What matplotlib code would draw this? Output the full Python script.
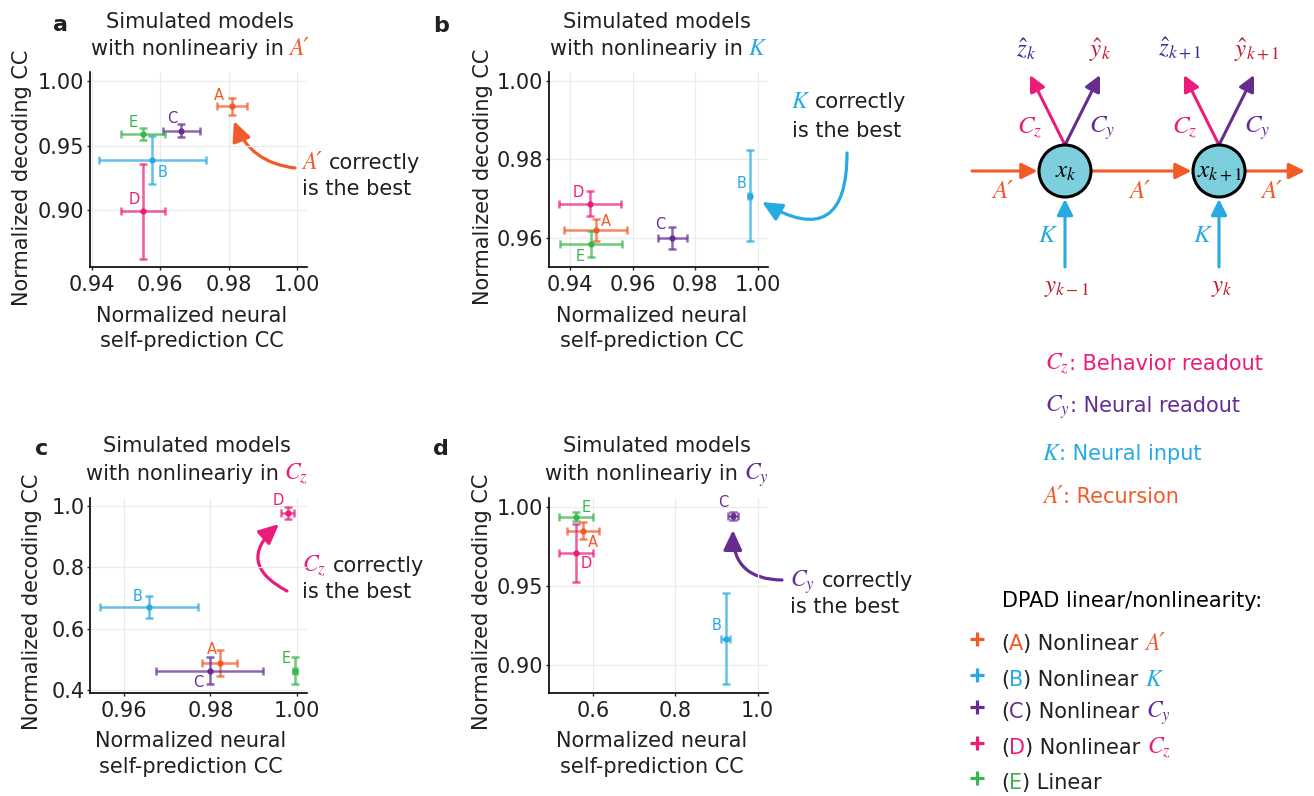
import matplotlib
matplotlib.use('Agg')
import matplotlib.pyplot as plt
from matplotlib.patches import FancyArrowPatch, Circle
from matplotlib.colors import to_rgba

plt.rcParams['font.family'] = ['DejaVu Sans']
plt.rcParams['mathtext.fontset'] = 'stix'

W, H = 1314, 796

# ---------------- data ----------------
models = ['A', 'B', 'C', 'D', 'E']

a_x    = [0.9810, 0.9576, 0.9662, 0.9550, 0.9550]
a_xerr = [0.0043, 0.0157, 0.0053, 0.0065, 0.0065]
a_y    = [0.9806, 0.9390, 0.9616, 0.8990, 0.9590]
a_yerr = [0.0066, 0.0187, 0.0050, 0.0366, 0.0050]

b_x    = [0.9482, 0.9974, 0.9727, 0.9464, 0.9466]
b_xerr = [0.0100, 0.0005, 0.0047, 0.0100, 0.0099]
b_y    = [0.9620, 0.9708, 0.9600, 0.9687, 0.9585]
b_yerr = [0.0029, 0.0115, 0.0027, 0.0032, 0.0034]

c_x    = [0.9821, 0.9658, 0.9798, 0.9978, 0.9995]
c_xerr = [0.0040, 0.0114, 0.0124, 0.0015, 0.0004]
c_y    = [0.4876, 0.6710, 0.4624, 0.9780, 0.4624]
c_yerr = [0.0430, 0.0360, 0.0440, 0.0210, 0.0440]

d_x    = [0.5756, 0.9220, 0.9390, 0.5585, 0.5585]
d_xerr = [0.0390, 0.0110, 0.0120, 0.0420, 0.0420]
d_y    = [0.9850, 0.9164, 0.9943, 0.9708, 0.9939]
d_yerr = [0.0055, 0.0289, 0.0023, 0.0185, 0.0030]

a_xticks = [0.94, 0.96, 0.98, 1.00]; a_yticks = [0.90, 0.95, 1.00]
b_xticks = [0.94, 0.96, 0.98, 1.00]; b_yticks = [0.96, 0.98, 1.00]
c_xticks = [0.96, 0.98, 1.00];       c_yticks = [0.4, 0.6, 0.8, 1.0]
d_xticks = [0.6, 0.8, 1.0];          d_yticks = [0.90, 0.95, 1.00]

legend_names = ['Nonlinear', 'Nonlinear', 'Nonlinear', 'Nonlinear', 'Linear']
legend_syms = ["A′", 'K', '$C_y$', '$C_z$', '']

# ---------------- style ----------------
ORANGE = '#F15A29'; BLUE = '#27AAE1'; PURPLE = '#662D91'
PINK = '#EC1C7A'; GREEN = '#39B54A'; DARKRED = '#BE1E2D'; NAVY = '#2E3192'
TXT = '#231F20'
colors = [ORANGE, BLUE, PURPLE, PINK, GREEN]
FS = 15
SERIF_FAM = ['STIXGeneral', 'DejaVu Serif']
SERIF = dict(family=SERIF_FAM, style='italic', size=17)
MATH = dict(size=17)

fig = plt.figure(figsize=(W / 100, H / 100), dpi=100)

ov = fig.add_axes([0, 0, 1, 1])
ov.set_xlim(0, W); ov.set_ylim(H, 0); ov.axis('off')
ren = fig.canvas.get_renderer()


def sym_kw(s):
    return MATH if s.startswith('$') else SERIF


def rich(x, y, pieces, ha='left', size=FS):
    items = []
    for p in pieces:
        s, col = p[0], p[1]
        gap = p[2] if len(p) > 2 else 0
        kw = dict(fontsize=size)
        if len(p) > 3:
            kw = dict(p[3])
        t = ov.text(0, y, s, color=col, va='baseline', ha='left', **kw)
        w = t.get_window_extent(ren).width
        items.append((t, gap, w))
    total = sum(g + w for _, g, w in items)
    cur = x - total / 2 if ha == 'center' else x
    for t, g, w in items:
        cur += g
        t.set_x(cur)
        cur += w


def panel(box, xs, xe, ys, ye, xlim, ylim, xticks, yticks, xfmt, yfmt, offs):
    l, t, r, b = box
    ax = fig.add_axes([l / W, 1 - b / H, (r - l) / W, (b - t) / H])
    ax.set_xlim(*xlim); ax.set_ylim(*ylim)
    ax.set_xticks(xticks); ax.set_yticks(yticks)
    ax.set_xticklabels([xfmt % v for v in xticks])
    ax.set_yticklabels([yfmt % v for v in yticks])
    ax.grid(True, color='#EBEBEB', lw=0.9)
    ax.set_axisbelow(True)
    for s in ['top', 'right']:
        ax.spines[s].set_visible(False)
    for s in ['left', 'bottom']:
        ax.spines[s].set_linewidth(1.2)
    ax.tick_params(direction='out', length=2.5, width=1, labelsize=FS, colors=TXT)
    ax.tick_params(axis='x', pad=3)
    ax.tick_params(axis='y', pad=1.5)
    ax.set_facecolor('none')
    for i, m in enumerate(models):
        c = colors[i]
        ax.errorbar(xs[i], ys[i], xerr=xe[i], yerr=ye[i], fmt='o', ms=3.5,
                    color=c, ecolor=to_rgba(c, 0.72), elinewidth=1.8,
                    capsize=2.6, capthick=1.8, zorder=3)
        dx, dy = offs[i]
        ax.annotate(m, (xs[i], ys[i]), xytext=(dx, -dy), textcoords='offset pixels',
                    ha='center', va='center', color=c, fontsize=10.5)
    return ax


panel((90, 72, 307, 267), a_x, a_xerr, a_y, a_yerr, (0.9394, 1.003), (0.856, 1.007),
      a_xticks, a_yticks, '%.2f', '%.2f',
      [(-13, -11), (10, 13), (-9, -12), (-9, -12), (-10, -11)])
panel((549, 72, 768, 267), b_x, b_xerr, b_y, b_yerr, (0.9333, 1.0033), (0.9526, 1.0023),
      b_xticks, b_yticks, '%.2f', '%.2f',
      [(10, -9), (-8, -12), (-12, -13), (-12, -11), (-10, 13)])
panel((90, 498, 307, 693), c_x, c_xerr, c_y, c_yerr, (0.9522, 1.0023), (0.389, 1.027),
      c_xticks, c_yticks, '%.2f', '%.1f',
      [(-8, -13), (-11, -10), (-11, 12), (-9, -12), (-9, -12)])
panel((549, 498, 768, 693), d_x, d_xerr, d_y, d_yerr, (0.4927, 1.025), (0.882, 1.0057),
      d_xticks, d_yticks, '%.1f', '%.2f',
      [(10, 12), (-9, -13), (-9, -13), (10, 10), (10, -9)])

# ---------------- panel texts ----------------
titles = [("a", 53, 31, 200, 28, 55, "A′", ORANGE),
          ("b", 433, 32, 657, 28, 55, "K", BLUE),
          ("c", 35, 455, 197, 452, 480, "$C_z$", PINK),
          ("d", 433, 455, 657, 452, 480, "$C_y$", PURPLE)]
for lab, lx, ly, cx, y1, y2, sym, col in titles:
    ov.text(lx, ly, lab, fontsize=16, fontweight='bold', color=TXT, va='baseline')
    ov.text(cx, y1, 'Simulated models', fontsize=FS, color=TXT, ha='center', va='baseline')
    rich(cx, y2, [('with nonlineariy in', TXT), (sym, col, 6, sym_kw(sym))], ha='center')

ylabs = [(22, 178), (483, 177), (32, 602), (482, 602)]
for x, y in ylabs:
    ov.text(x, y, 'Normalized decoding CC', rotation=90, fontsize=FS, color=TXT,
            ha='center', va='center')
xlabs = [(192, 322, 347), (652, 322, 347), (191, 747, 773), (652, 747, 773)]
for x, y1, y2 in xlabs:
    ov.text(x, y1, 'Normalized neural', fontsize=FS, color=TXT, ha='center', va='baseline')
    ov.text(x, y2, 'self-prediction CC', fontsize=FS, color=TXT, ha='center', va='baseline')

# "correctly is the best" annotations
notes = [(302, 169, 195, "A′", ORANGE), (792, 108, 137, "K", BLUE),
         (302, 572, 598, "$C_z$", PINK), (790, 587, 613, "$C_y$", PURPLE)]
for x, y1, y2, sym, col in notes:
    rich(x, y1, [(sym, col, 0, sym_kw(sym)), ('correctly', TXT, 7)])
    rich(x, y2, [('is the best', TXT)])

arrows = [((295, 168), (234, 121), -0.30, ORANGE),
          ((847, 153), (762, 202), -0.87, BLUE),
          ((287, 591), (279, 524), -0.72, PINK),
          ((782, 580), (733, 530), -0.50, PURPLE)]
for pa, pb, rad, col in arrows:
    ov.add_patch(FancyArrowPatch(pa, pb, connectionstyle='arc3,rad=%g' % rad,
                                 arrowstyle='-|>,head_length=0.6,head_width=0.28',
                                 mutation_scale=20, lw=2.3, color=col,
                                 shrinkA=0, shrinkB=0))

# ---------------- diagram ----------------
def arr(pa, pb, col):
    ov.add_patch(FancyArrowPatch(pa, pb, arrowstyle='-|>,head_length=0.6,head_width=0.3',
                                 mutation_scale=16, lw=2.2, color=col,
                                 shrinkA=0, shrinkB=0, zorder=2))

nodes = [1065, 1219]
NY, R = 171, 26
arr((972, NY), (1037.5, NY), ORANGE)
arr((1092.5, NY), (1191.5, NY), ORANGE)
arr((1246.5, NY), (1305, NY), ORANGE)
for nx in nodes:
    arr((nx, NY - R), (nx - 35, 75), PINK)
    arr((nx, NY - R), (nx + 35, 75), PURPLE)
    arr((nx, 267), (nx, NY + 28), BLUE)
    ov.add_patch(Circle((nx, NY), R, fc='#7ECFDD', ec='black', lw=2.2, zorder=3))

DS = 18
dtexts = [(1026, 49, r'$\hat{z}_k$', NAVY), (1100, 50, r'$\hat{y}_k$', DARKRED),
          (1180, 49, r'$\hat{z}_{k+1}$', NAVY), (1257, 50, r'$\hat{y}_{k+1}$', DARKRED),
          (1030, 128, '$C_z$', PINK), (1102, 128, '$C_y$', PURPLE),
          (1185, 128, '$C_z$', PINK), (1257, 128, '$C_y$', PURPLE),
          (1048, 235, '$K$', BLUE), (1203, 235, '$K$', BLUE),
          (1067, 287, '$y_{k-1}$', DARKRED), (1222, 287, '$y_k$', DARKRED),
          (1066, 171, '$x_k$', 'black'), (1220, 171, '$x_{k+1}$', 'black')]
for x, y, s, col in dtexts:
    ov.text(x, y, s, fontsize=DS, color=col, ha='center', va='center', zorder=4)
for x in [1003, 1140, 1272]:
    ov.text(x, 192, 'A′', color=ORANGE, ha='center', va='center', zorder=4,
            family=SERIF_FAM, style='italic', size=DS)

# ---------------- right legends ----------------
rich(1045, 370, [('$C_z$', PINK, 0, MATH), (': Behavior readout', PINK)])
rich(1045, 412, [('$C_y$', PURPLE, 0, MATH), (': Neural readout', PURPLE)])
rich(1043, 460, [('K', BLUE, 0, SERIF), (': Neural input', BLUE)])
rich(1043, 503, [("A′", ORANGE, 0, SERIF), (': Recursion', ORANGE)])

ov.text(1002, 607, 'DPAD linear/nonlinearity:', fontsize=FS, color='black', va='baseline')
base = [650, 686, 718, 754, 789]
for i, m in enumerate(models):
    c = colors[i]
    ov.plot([977], [base[i] - 11], marker='+', ms=10, mew=2.3, color=c)
    pieces = [('(', TXT), (m, c), (') ' + legend_names[i], TXT)]
    if legend_syms[i]:
        pieces.append((legend_syms[i], c, 7, sym_kw(legend_syms[i])))
    rich(1001, base[i], pieces)

fig.savefig('out.png', dpi=100)
